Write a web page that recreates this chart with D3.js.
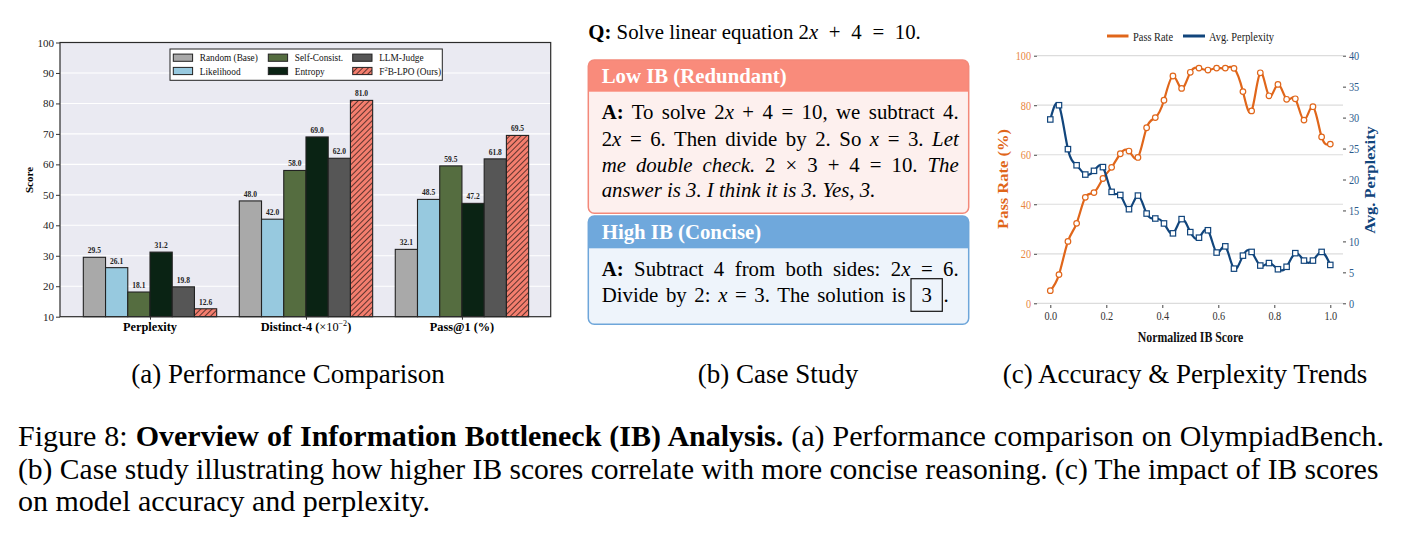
<!DOCTYPE html>
<html><head><meta charset="utf-8">
<script src="https://cdn.jsdelivr.net/npm/d3@7"></script>
<style>body{margin:0;background:#fff}svg{display:block}</style>
</head><body>
<svg id="fig" width="1401" height="535"></svg>
<script>
// ---------- DATA ----------
const categories = ["Perplexity", "Distinct-4", "Pass@1"];
const methods = ["Random (Base)", "Likelihood", "Self-Consist.", "Entropy", "LLM-Judge", "F2B-LPO (Ours)"];
const randomBase  = [29.5, 48.0, 32.1];
const likelihood  = [26.1, 42.0, 48.5];
const selfConsist = [18.1, 58.0, 59.5];
const entropy     = [31.2, 69.0, 47.2];
const llmJudge    = [19.8, 62.0, 61.8];
const f2bLpo      = [12.6, 81.0, 69.5];
const scoreTicks  = [10, 20, 30, 40, 50, 60, 70, 80, 90, 100];

const ibScore = [0, 0.031, 0.063, 0.094, 0.125, 0.156, 0.188, 0.219, 0.25, 0.281, 0.313, 0.344, 0.375, 0.406, 0.438, 0.469, 0.5,
                 0.531, 0.563, 0.594, 0.625, 0.656, 0.688, 0.719, 0.75, 0.781, 0.813, 0.844, 0.875, 0.906, 0.938, 0.969, 1.0];
const passRate = [5.1, 11.6, 25.0, 32.3, 42.8, 44.7, 50.4, 54.9, 60.4, 61.5, 58.9, 70.9, 75.0, 82.0, 91.8, 86.8, 93.3,
                  95.0, 94.2, 95.0, 95.0, 94.9, 85.5, 77.7, 93.1, 83.8, 88.4, 82.4, 82.6, 74.0, 79.4, 67.2, 64.3];
const avgPerplexity = [29.7, 32.0, 24.9, 22.3, 20.8, 21.4, 22.0, 18.0, 17.5, 15.2, 17.4, 14.5, 13.7, 12.9, 11.3, 13.6, 11.5,
                       10.6, 11.8, 8.2, 9.2, 5.6, 7.7, 8.3, 6.1, 6.5, 5.5, 5.9, 8.1, 6.9, 6.9, 8.3, 6.2];
const ibTicks = [0, 0.2, 0.4, 0.6, 0.8, 1.0];
const passTicks = [0, 20, 40, 60, 80, 100];
const pplTicks = [0, 5, 10, 15, 20, 25, 30, 35, 40];

// ---------- SETUP ----------
const SERIF = "'Liberation Serif','Times New Roman',Times,serif";
const svg = d3.select("#fig");
const defs = svg.append("defs");

function T(g, x, y, segs, o = {}) {
  if (typeof segs === "string") segs = [[segs, {}]];
  const base = `translate(${x},${y})` + (o.rot ? ` rotate(${o.rot})` : "");
  const t = g.append("text")
    .attr("transform", base + ` scale(${o.sx || 1},${o.sy || 1})`)
    .attr("font-family", o.ff || SERIF).attr("font-size", o.fs || 12)
    .attr("font-weight", o.fw || "normal").attr("fill", o.fill || "#000")
    .attr("text-anchor", o.anchor || "start");
  if (o.fstyle) t.attr("font-style", o.fstyle);
  segs.forEach(([s, so]) => {
    const ts = t.append("tspan").text(s);
    if (so.b) ts.attr("font-weight", "bold");
    if (so.i) ts.attr("font-style", "italic");
    if (so.n) ts.attr("font-weight", "normal");
    if (so.fs) ts.attr("font-size", so.fs);
    if (so.dy) ts.attr("dy", so.dy);
    if (so.ws) ts.attr("word-spacing", so.ws);
  });
  if (o.width) {
    const nat = t.node().getComputedTextLength();
    const n = (t.text().match(/ /g) || []).length;
    if (nat > o.width) {
      t.attr("transform", base + ` scale(${o.width / nat},1)`);
    } else if (n > 0) {
      t.attr("word-spacing", (o.width - nat) / n);
    }
  }
  return t;
}

// ---------- PANEL (a) ----------
const gA = svg.append("g");
const pa = {l: 60, r: 550.7, t: 42.5, b: 316.7};
const yA = d3.scaleLinear().domain([10, 100]).range([pa.b, pa.t]);
const xA = d3.scaleLinear().domain([-0.577, 2.569]).range([pa.l, pa.r]);
const bw = 0.1425;
const series = [randomBase, likelihood, selfConsist, entropy, llmJudge, f2bLpo];
const colors = ["#a9a9a9", "#97c9df", "#556d40", "#0a2314", "#565656", "#f47e6e"];

const pat = defs.append("pattern").attr("id", "hatch").attr("patternUnits", "userSpaceOnUse")
  .attr("width", 4).attr("height", 4).attr("patternTransform", "rotate(45)");
pat.append("rect").attr("width", 4).attr("height", 4).attr("fill", "#f47e6e");
pat.append("line").attr("x1", 0.5).attr("y1", 0).attr("x2", 0.5).attr("y2", 4).attr("stroke", "#3a2220").attr("stroke-width", 0.8);

gA.append("rect").attr("x", pa.l).attr("y", pa.t).attr("width", pa.r - pa.l).attr("height", pa.b - pa.t).attr("fill", "#eaeaf2");
gA.selectAll(".gy").data(scoreTicks).join("line")
  .attr("x1", pa.l).attr("x2", pa.r).attr("y1", d => yA(d)).attr("y2", d => yA(d))
  .attr("stroke", "#fff").attr("stroke-width", 1.1);

series.forEach((vals, i) => {
  const fill = i === 5 ? "url(#hatch)" : colors[i];
  gA.selectAll(".bar" + i).data(vals).join("rect")
    .attr("x", (d, c) => xA(c + (i - 3) * bw))
    .attr("width", xA(bw) - xA(0))
    .attr("y", d => yA(d)).attr("height", d => yA(10) - yA(d))
    .attr("fill", fill).attr("stroke", "#222").attr("stroke-width", 1.1);
  gA.selectAll(".lab" + i).data(vals).join("text")
    .attr("x", (d, c) => xA(c + (i - 2.5) * bw)).attr("y", d => yA(d) - 4)
    .attr("text-anchor", "middle").attr("font-family", SERIF).attr("font-size", 7.5).attr("font-weight", "bold")
    .attr("fill", "#222").text(d => d.toFixed(1));
});

gA.append("rect").attr("x", pa.l).attr("y", pa.t).attr("width", pa.r - pa.l).attr("height", pa.b - pa.t)
  .attr("fill", "none").attr("stroke", "#2b2b2b").attr("stroke-width", 1.2);

const axA = gA.append("g").attr("transform", `translate(${pa.l},0)`)
  .call(d3.axisLeft(yA).tickValues(scoreTicks).tickSize(4).tickPadding(2));
axA.select(".domain").remove();
axA.selectAll("line").attr("stroke", "#333");
axA.selectAll("text").attr("font-family", SERIF).attr("font-size", 11).attr("fill", "#222");

const axAx = gA.append("g").attr("transform", `translate(0,${pa.b})`)
  .call(d3.axisBottom(xA).tickValues([0, 1, 2]).tickSize(3).tickFormat(""));
axAx.select(".domain").remove();
axAx.selectAll("line").attr("stroke", "#333");

T(gA, xA(0), 331, [["Perplexity", {}]], {fs: 13, fw: "bold", anchor: "middle", sx: 0.95});
T(gA, xA(1), 331, [["Distinct-4 (", {}], ["\u00d710", {n: true}], ["\u22122", {n: true, fs: 8.5, dy: -5}], [")", {dy: 5}]],
  {fs: 13, fw: "bold", anchor: "middle", sx: 0.95});
T(gA, xA(2), 331, [["Pass@1 (%)", {}]], {fs: 13, fw: "bold", anchor: "middle", sx: 0.95});
T(gA, 33, 180, "Score", {fs: 11, fw: "bold", anchor: "middle", rot: -90});

// legend
const lg = gA.append("g");
lg.append("rect").attr("x", 170).attr("y", 49).attr("width", 272.3).attr("height", 31.3)
  .attr("fill", "#fff").attr("stroke", "#222").attr("stroke-width", 1);
const legCols = [173.3, 268.3, 352.7];
const legRows = [57.7, 71];
methods.forEach((m, i) => {
  const cx = legCols[Math.floor(i / 2)], cy = legRows[i % 2];
  lg.append("rect").attr("x", cx).attr("y", cy - 3.6).attr("width", 19.3).attr("height", 7.2)
    .attr("fill", i === 5 ? "url(#hatch)" : colors[i]).attr("stroke", "#222").attr("stroke-width", 1);
  const segs = i === 5 ? [["F", {}], ["2", {fs: 7, dy: -4}], ["B-LPO (Ours)", {dy: 4}]] : [[m, {}]];
  T(lg, cx + 26.5, cy + 3.5, segs, {fs: 10, sx: 0.93, fill: "#111"});
});

// ---------- PANEL (b) ----------
const gB = svg.append("g");
const FB = 20.8;
T(gB, 588.3, 38.5, [["Q:", {b: true}], [" Solve linear equation 2", {}], ["x", {i: true}], [" + 4 = 10.", {ws: 5.5}]], {fs: FB});

function box(y, h, hh, head, body, stroke, id, title) {
  defs.append("clipPath").attr("id", id).append("rect").attr("x", 588.3).attr("y", y).attr("width", 380.4).attr("height", h).attr("rx", 6);
  gB.append("rect").attr("x", 588.3).attr("y", y).attr("width", 380.4).attr("height", h).attr("rx", 6).attr("fill", body);
  gB.append("rect").attr("x", 588.3).attr("y", y).attr("width", 380.4).attr("height", hh).attr("fill", head).attr("clip-path", `url(#${id})`);
  gB.append("rect").attr("x", 588.3).attr("y", y).attr("width", 380.4).attr("height", h).attr("rx", 6)
    .attr("fill", "none").attr("stroke", stroke).attr("stroke-width", 1.5);
  T(gB, 601.7, y + 22.7, title, {fs: 20.8, fw: "bold", fill: "#fff"});
}
box(60, 153.3, 31.7, "#f98b7b", "#fdf0ee", "#f3897a", "clipLow", "Low IB (Redundant)");
box(216, 108.3, 32.3, "#6fa8dc", "#eef4fb", "#6ea6da", "clipHigh", "High IB (Concise)");

const W = 357;
T(gB, 601.7, 119.3, [["A:", {b: true}], [" To solve 2", {}], ["x", {i: true}], [" + 4 = 10, we subtract 4.", {}]], {fs: FB, width: W});
T(gB, 601.7, 145.7, [["2", {}], ["x", {i: true}], [" = 6. Then divide by 2. So ", {}], ["x", {i: true}], [" = 3. ", {}], ["Let", {i: true}]], {fs: FB, width: W});
T(gB, 601.7, 171.7, [["me double check.", {i: true}], [" 2 \u00d7 3 + 4 = 10. ", {}], ["The", {i: true}]], {fs: FB, width: W});
T(gB, 601.7, 197.3, [["answer is 3. I think it is 3. Yes, 3.", {i: true}]], {fs: FB});

T(gB, 601.7, 275.7, [["A:", {b: true}], [" Subtract 4 from both sides: 2", {}], ["x", {i: true}], [" = 6.", {}]], {fs: FB, width: W});
T(gB, 601.7, 301.7, [["Divide by 2: ", {}], ["x", {i: true}], [" = 3. The solution is", {}]], {fs: FB, width: 304});
const bx0 = 601.7 + 304 + 5.3;
gB.append("rect").attr("x", bx0).attr("y", 278.7).attr("width", 31.3).attr("height", 32.6)
  .attr("fill", "none").attr("stroke", "#111").attr("stroke-width", 1.2);
T(gB, bx0 + 15.6, 301.7, "3", {fs: FB, anchor: "middle"});
T(gB, bx0 + 32.5, 301.7, ".", {fs: FB});

// ---------- PANEL (c) ----------
const gC = svg.append("g");
const ORANGE = "#e0661a", BLUE = "#11457c";
const xC = d3.scaleLinear().domain([0, 1]).range([1050.3, 1330.3]);
const yL = d3.scaleLinear().domain([0, 100]).range([303.3, 55.7]);
const yR = d3.scaleLinear().domain([0, 40]).range([303.3, 55.7]);
const cL = 1037, cR = 1343;

gC.selectAll(".gc").data(passTicks).join("line")
  .attr("x1", cL).attr("x2", cR).attr("y1", d => yL(d)).attr("y2", d => yL(d))
  .attr("stroke", "#dcdcdc").attr("stroke-width", 1.2);

const sxC = 0.82;
const axL = gC.append("g").attr("transform", `translate(${cL},0)`).call(d3.axisLeft(yL).tickValues(passTicks).tickSize(3));
axL.select(".domain").remove();
axL.selectAll("line").attr("stroke", "#444");
axL.selectAll("text").attr("font-family", SERIF).attr("font-size", 12.5).attr("fill", "#e8873f")
  .attr("x", -6 / sxC).attr("transform", `scale(${sxC},1)`);

const axR = gC.append("g").attr("transform", `translate(${cR},0)`).call(d3.axisRight(yR).tickValues(pplTicks).tickSize(3));
axR.select(".domain").remove();
axR.selectAll("line").attr("stroke", "#444");
axR.selectAll("text").attr("font-family", SERIF).attr("font-size", 12.5).attr("fill", "#2b5b8c")
  .attr("x", 6 / sxC).attr("transform", `scale(${sxC},1)`);

const axB = gC.append("g").attr("transform", `translate(0,305)`).call(d3.axisBottom(xC).tickValues(ibTicks).tickSize(3).tickFormat(d3.format(".1f")));
axB.select(".domain").remove();
axB.selectAll("line").attr("stroke", "#444");
axB.selectAll("text").attr("font-family", SERIF).attr("font-size", 12.5).attr("fill", "#333")
  .attr("y", 15).attr("dy", null).attr("transform", `scale(${sxC},1)`);

const passData = ibScore.map((x, i) => ({x, y: passRate[i]}));
const pplData = ibScore.map((x, i) => ({x, y: avgPerplexity[i]}));

gC.append("path").datum(passData)
  .attr("d", d3.line().x(d => xC(d.x)).y(d => yL(d.y)).curve(d3.curveNatural))
  .attr("fill", "none").attr("stroke", ORANGE).attr("stroke-width", 2.2);
gC.selectAll(".pc").data(passData).join("circle")
  .attr("cx", d => xC(d.x)).attr("cy", d => yL(d.y)).attr("r", 2.8)
  .attr("fill", "#fff").attr("stroke", ORANGE).attr("stroke-width", 1.2);

gC.append("path").datum(pplData)
  .attr("d", d3.line().x(d => xC(d.x)).y(d => yR(d.y)).curve(d3.curveNatural))
  .attr("fill", "none").attr("stroke", BLUE).attr("stroke-width", 2.2);
gC.selectAll(".ps").data(pplData).join("rect")
  .attr("x", d => xC(d.x) - 2.7).attr("y", d => yR(d.y) - 2.7).attr("width", 5.4).attr("height", 5.4)
  .attr("fill", "#fff").attr("stroke", BLUE).attr("stroke-width", 1.2);

// legend
gC.append("line").attr("x1", 1107).attr("x2", 1128.5).attr("y1", 36).attr("y2", 36).attr("stroke", ORANGE).attr("stroke-width", 3);
T(gC, 1133, 40.5, "Pass Rate", {fs: 13.5, sx: 0.77, fill: "#222"});
gC.append("line").attr("x1", 1183).attr("x2", 1205).attr("y1", 36).attr("y2", 36).attr("stroke", BLUE).attr("stroke-width", 3);
T(gC, 1209, 40.5, "Avg. Perplexity", {fs: 13.5, sx: 0.77, fill: "#222"});

T(gC, 1190.5, 342, "Normalized IB Score", {fs: 15, fw: "bold", anchor: "middle", sx: 0.79, fill: "#111"});
T(gC, 1008, 179, "Pass Rate (%)", {fs: 16.5, fw: "bold", anchor: "middle", rot: -90, sy: 0.85, fill: ORANGE});
T(gC, 1375, 180, "Avg. Perplexity", {fs: 16.5, fw: "bold", anchor: "middle", rot: -90, sy: 0.85, fill: BLUE});

// ---------- CAPTIONS ----------
const gT = svg.append("g");
T(gT, 288, 383, "(a) Performance Comparison", {fs: 27, anchor: "middle"});
T(gT, 778, 383, "(b) Case Study", {fs: 27, anchor: "middle"});
T(gT, 1185, 383, "(c) Accuracy & Perplexity Trends", {fs: 27, anchor: "middle"});

const FC = 30;
T(gT, 18, 446, [["Figure 8: ", {}], ["Overview of Information Bottleneck (IB) Analysis.", {b: true}], [" (a) Performance comparison on OlympiadBench.", {}]], {fs: FC, width: 1366});
T(gT, 18, 478.5, [["(b) Case study illustrating how higher IB scores correlate with more concise reasoning. (c) The impact of IB scores", {}]], {fs: FC, width: 1361});
T(gT, 18, 511, "on model accuracy and perplexity.", {fs: FC});
</script>
</body></html>
